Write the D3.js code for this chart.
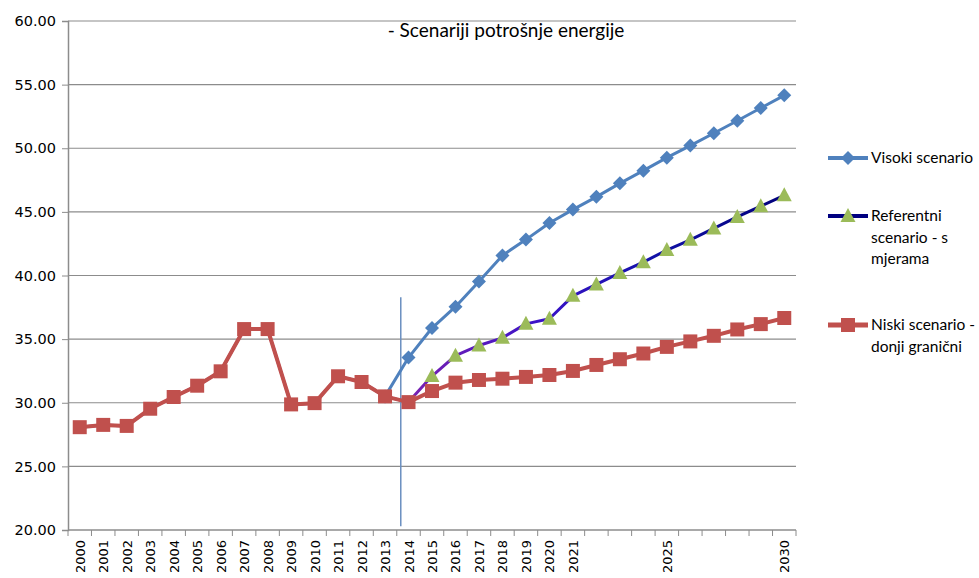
<!DOCTYPE html>
<html>
<head>
<meta charset="utf-8">
<script src="https://cdn.jsdelivr.net/npm/d3@7"></script>
<style>
  body { margin: 0; background: #fff; }
  text { font-family: "DejaVu Sans", sans-serif; fill: #000; }
  .lbl { font-family: Lato, "Open Sans", sans-serif; }
</style>
</head>
<body>
<script>
// Podaci
const years = ["2000","2001","2002","2003","2004","2005","2006","2007","2008","2009","2010",
  "2011","2012","2013","2014","2015","2016","2017","2018","2019","2020",
  "2021","2022","2023","2024","2025","2026","2027","2028","2029","2030"];
const tickLabels = ["2000","2001","2002","2003","2004","2005","2006","2007","2008","2009","2010",
  "2011","2012","2013","2014","2015","2016","2017","2018","2019","2020",
  "2021","","","","2025","","","","","2030"];
const yTicks = [20, 25, 30, 35, 40, 45, 50, 55, 60];

const visoki = [null,null,null,null,null,null,null,null,null,null,null,
  null,null,30.5,33.55,35.87,37.55,39.53,41.58,42.82,44.13,
  45.18,46.18,47.24,48.24,49.26,50.21,51.18,52.16,53.16,54.16];
const referentni = [28.08,28.26,28.18,29.53,30.45,31.34,32.47,35.79,35.79,29.87,29.97,
  32.08,31.63,30.5,30.05,32.1,33.7,34.5,35.1,36.2,36.6,
  38.4,39.3,40.2,41.05,42.0,42.8,43.7,44.6,45.45,46.3];
const niski = [28.08,28.26,28.18,29.53,30.45,31.34,32.47,35.79,35.79,29.87,29.97,
  32.08,31.63,30.5,30.05,30.92,31.58,31.79,31.89,32.03,32.18,
  32.5,32.97,33.42,33.87,34.39,34.82,35.26,35.76,36.18,36.66];

const title = "- Scenariji potrošnje energije";
const legendItems = [
  { key: "visoki", lines: ["Visoki scenario"] },
  { key: "referentni", lines: ["Referentni", "scenario - s", "mjerama"] },
  { key: "niski", lines: ["Niski scenario -", "donji granični"] }
];

// Dimenzije
const margin = { top: 21, right: 183, bottom: 48, left: 68 };
const width = 979, height = 578;
const innerWidth = width - margin.left - margin.right;
const innerHeight = height - margin.top - margin.bottom;

const svg = d3.select("body").append("svg")
  .attr("width", width)
  .attr("height", height);

const root = svg.append("g").attr("transform", `translate(${margin.left},${margin.top})`);

const x = d3.scaleBand().domain(years).range([0, innerWidth]);
const y = d3.scaleLinear().domain([20, 60]).range([innerHeight, 0]);
const cx = d => x(d) + x.bandwidth() / 2;

// gradijent za referentni scenarij
const grad = svg.append("defs").append("linearGradient")
  .attr("id", "refGrad")
  .attr("gradientUnits", "userSpaceOnUse")
  .attr("x1", cx("2014")).attr("x2", cx("2030"))
  .attr("y1", 0).attr("y2", 0);
grad.append("stop").attr("offset", "0%").attr("stop-color", "#7a22b0");
grad.append("stop").attr("offset", "35%").attr("stop-color", "#3a12c8");
grad.append("stop").attr("offset", "65%").attr("stop-color", "#1212a8");
grad.append("stop").attr("offset", "100%").attr("stop-color", "#00007a");

// Mreža
root.append("g").selectAll("line")
  .data(yTicks.filter(t => t > 20))
  .enter().append("line")
  .attr("x1", 0).attr("x2", innerWidth)
  .attr("y1", d => y(d)).attr("y2", d => y(d))
  .attr("stroke", "#8c8c8c").attr("stroke-width", 1.2);

// Y os
const yAxis = root.append("g")
  .call(d3.axisLeft(y).tickValues(yTicks).tickFormat(d3.format(".2f")).tickSize(6).tickPadding(6));
yAxis.select(".domain").attr("stroke", "#8c8c8c").attr("stroke-width", 1.5);
yAxis.selectAll(".tick line").attr("stroke", "#8c8c8c");
yAxis.selectAll(".tick text").style("font-size", "14.5px").style("font-family", "DejaVu Sans");

// X os
const xAxis = root.append("g").attr("transform", `translate(0,${innerHeight})`);
xAxis.append("line").attr("x1", 0).attr("x2", innerWidth)
  .attr("stroke", "#8c8c8c").attr("stroke-width", 1.5);
xAxis.selectAll("line.tk")
  .data(years.map(d => x(d)).concat([innerWidth]))
  .enter().append("line").attr("class", "tk")
  .attr("x1", d => d).attr("x2", d => d)
  .attr("y1", 0).attr("y2", 6)
  .attr("stroke", "#8c8c8c");
xAxis.selectAll("text")
  .data(years.filter((d, i) => tickLabels[i] !== ""))
  .enter().append("text")
  .attr("transform", (d) => `translate(${cx(d) + 5},${10}) rotate(-90)`)
  .attr("text-anchor", "end")
  .style("font-size", "13px")
  .text(d => tickLabels[years.indexOf(d)]);

// Okomita linija (granica projekcije)
root.append("line")
  .attr("x1", x("2014") + 4).attr("x2", x("2014") + 4)
  .attr("y1", y(38.3)).attr("y2", y(20.3))
  .attr("stroke", "#6a8fc0").attr("stroke-width", 1.5);

// Naslov
root.append("text").attr("class", "lbl")
  .attr("x", 506 - margin.left).attr("y", 37 - margin.top)
  .attr("text-anchor", "middle")
  .style("font-size", "19px")
  .text(title);

// Serije
const seriesDefs = {
  visoki: { values: visoki, stroke: "#4f81bd", width: 3, marker: "diamond", fill: "#4f81bd", from: 0 },
  referentni: { values: referentni, stroke: "url(#refGrad)", width: 3, marker: "triangle", fill: "#9bbb59", from: 15 },
  niski: { values: niski, stroke: "#c0504d", width: 4, marker: "square", fill: "#c0504d", from: 0 }
};

function markerPath(type) {
  if (type === "diamond") return "M0,-7L7,0L0,7L-7,0Z";
  if (type === "triangle") return "M0,-8L7.5,6L-7.5,6Z";
  return "M-7,-7H7V7H-7Z";
}

const line = d3.line()
  .defined(d => d.v !== null)
  .x(d => cx(d.year))
  .y(d => y(d.v));

function drawSeries(key) {
  const s = seriesDefs[key];
  const pts = years.map((yr, i) => ({ year: yr, v: s.values[i], i: i }));
  const g = root.append("g");
  g.append("path")
    .attr("d", line(pts))
    .attr("fill", "none")
    .attr("stroke", s.stroke)
    .attr("stroke-width", s.width)
    .attr("stroke-linejoin", "round");
  g.selectAll("path.m")
    .data(pts.filter(d => d.v !== null && d.i >= s.from))
    .enter().append("path").attr("class", "m")
    .attr("transform", d => `translate(${cx(d.year)},${y(d.v)})`)
    .attr("d", markerPath(s.marker))
    .attr("fill", s.fill);
}

drawSeries("visoki");
drawSeries("referentni");
drawSeries("niski");

// Legenda
const legendY = { visoki: 158, referentni: 216, niski: 325 };
const legendStroke = { visoki: "#4f81bd", referentni: "#000080", niski: "#c0504d" };
const legend = svg.append("g");
legendItems.forEach(item => {
  const s = seriesDefs[item.key];
  const ly = legendY[item.key];
  legend.append("line")
    .attr("x1", 828).attr("x2", 868).attr("y1", ly).attr("y2", ly)
    .attr("stroke", legendStroke[item.key]).attr("stroke-width", s.width + 1);
  legend.append("path")
    .attr("transform", `translate(848,${ly})`)
    .attr("d", markerPath(s.marker))
    .attr("fill", s.fill);
  const t = legend.append("text").attr("class", "lbl")
    .attr("x", 871).attr("y", ly + 5)
    .style("font-size", "15.5px");
  item.lines.forEach((l, i) => {
    t.append("tspan").attr("x", 871).attr("dy", i === 0 ? 0 : 21.5).text(l);
  });
});
</script>
</body>
</html>
